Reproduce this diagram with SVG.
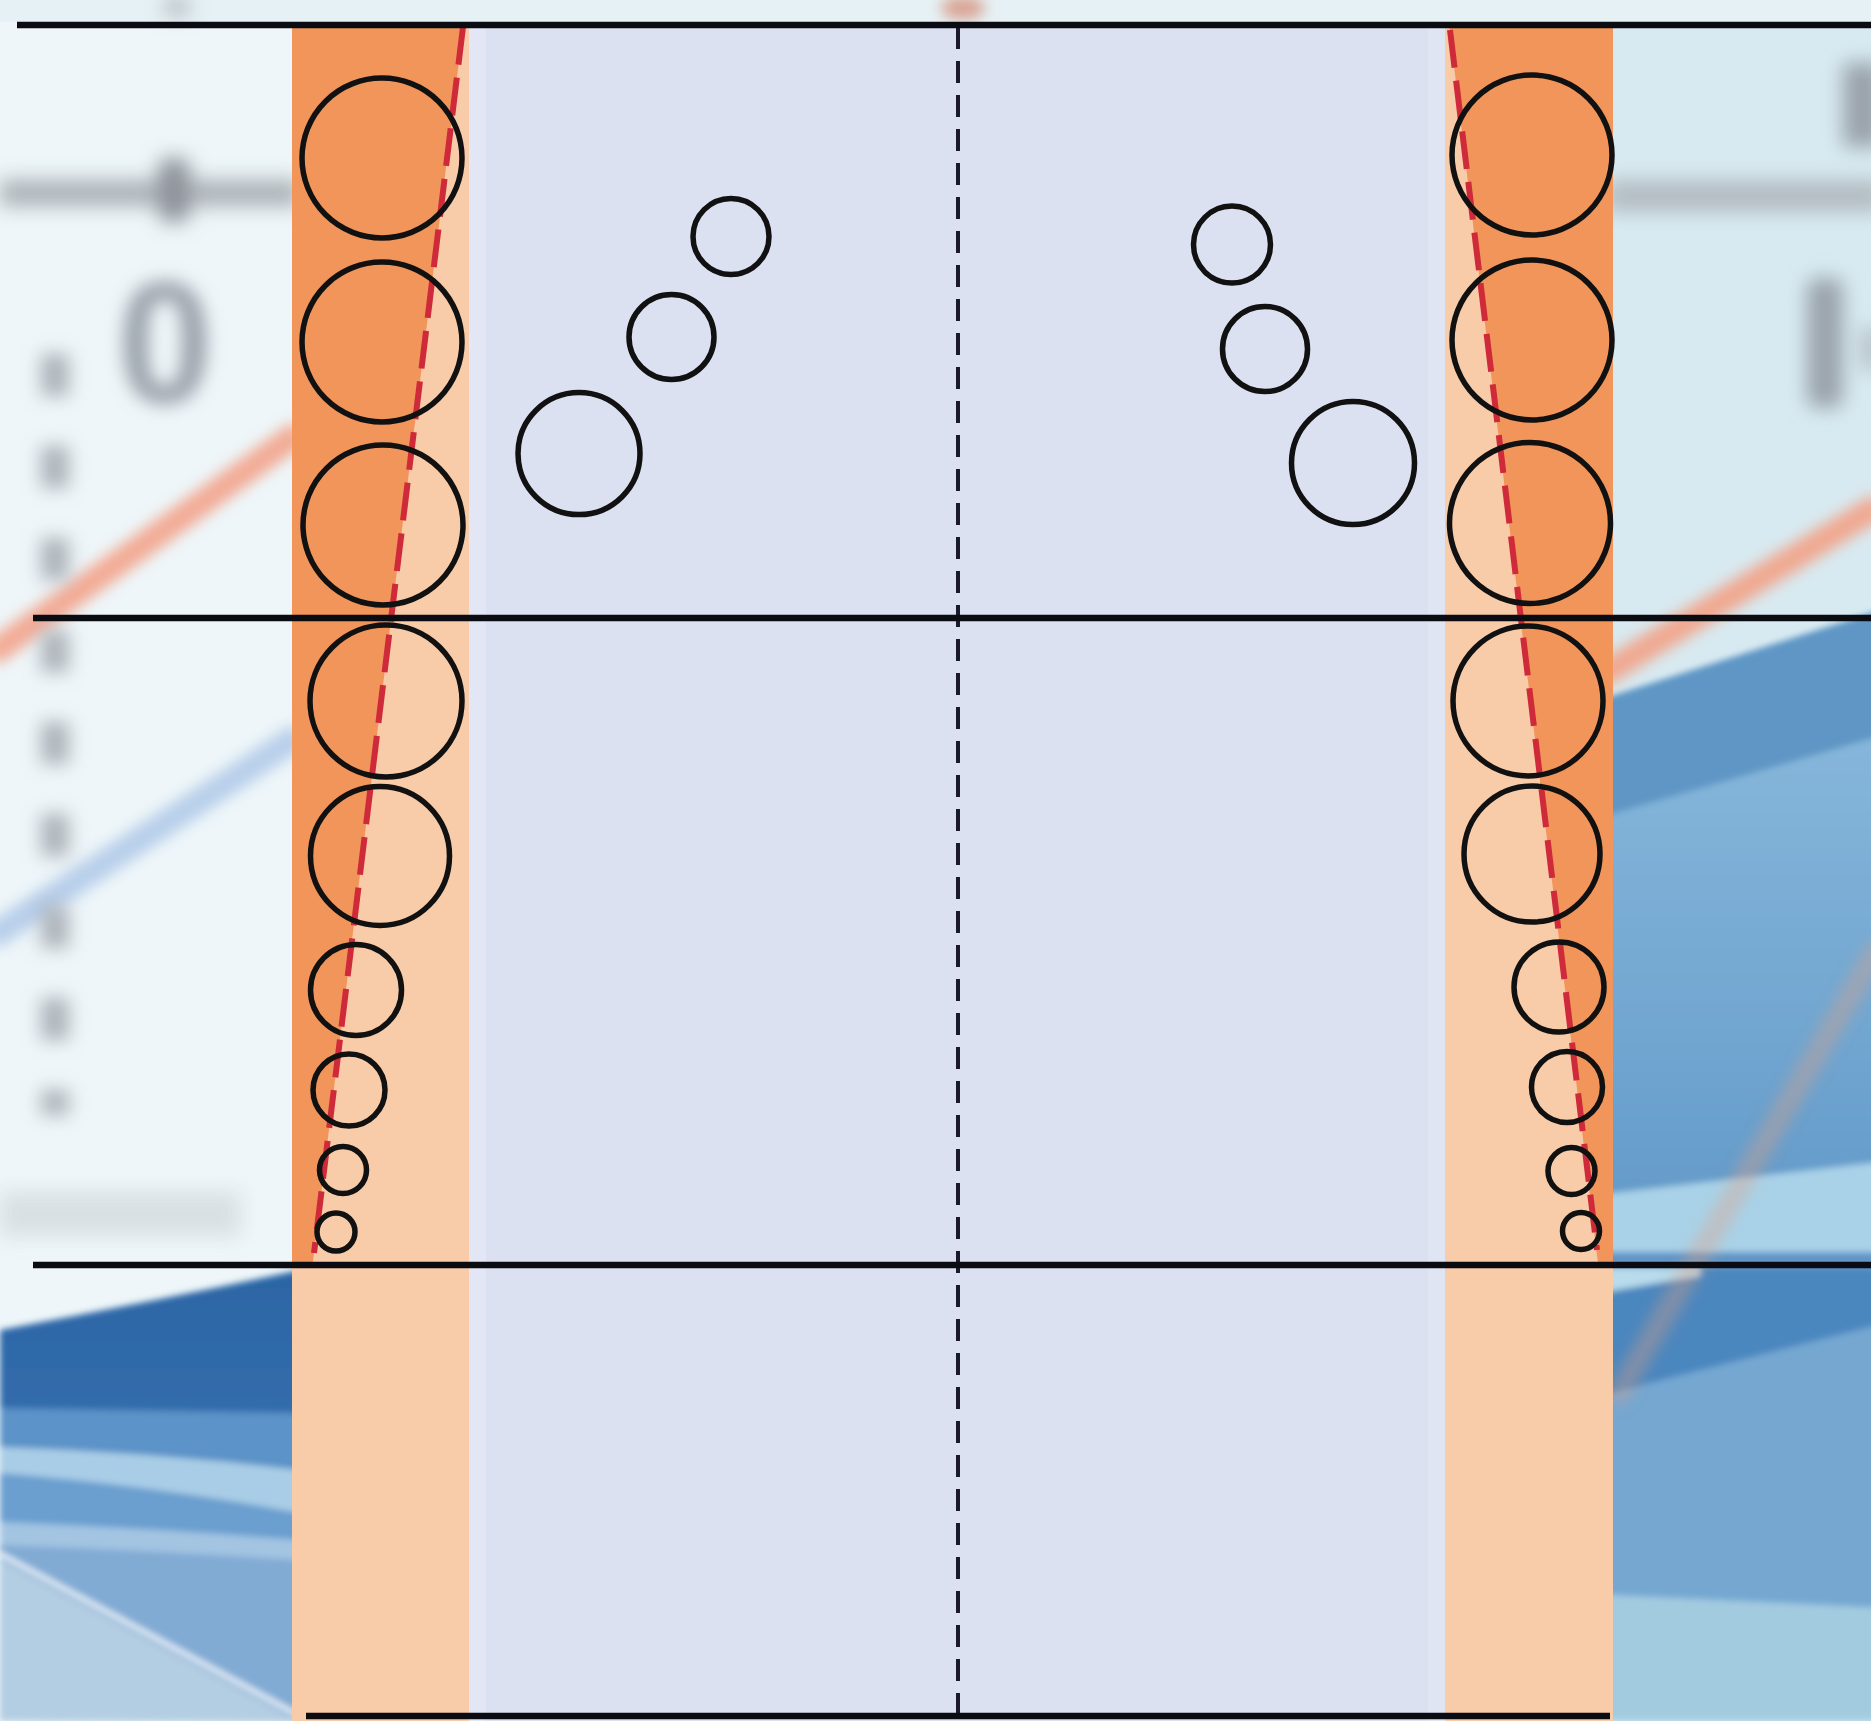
<svg xmlns="http://www.w3.org/2000/svg" width="1871" height="1721" viewBox="0 0 1871 1721">
<defs>
<style>
.hl{stroke:#0b0b12;stroke-width:6.5;fill:none}
.c{fill:none;stroke:#111;stroke-width:5.5}
.red{stroke:#cf2a3a;stroke-width:6;stroke-dasharray:38 13;fill:none}
.axis{stroke:#1a1a2a;stroke-width:4;stroke-dasharray:22 12;fill:none}
.dark{fill:#f2955a}
.peach{fill:#f8cba9}
</style>
<filter id="b10" x="-30%" y="-30%" width="160%" height="160%"><feGaussianBlur stdDeviation="10"/></filter>
<filter id="b12" filterUnits="userSpaceOnUse" x="-50" y="150" width="400" height="1050"><feGaussianBlur stdDeviation="9"/></filter>
<filter id="b7" x="-30%" y="-30%" width="160%" height="160%"><feGaussianBlur stdDeviation="7"/></filter>
<filter id="b3" x="-5%" y="-5%" width="110%" height="110%"><feGaussianBlur stdDeviation="3"/></filter>
<clipPath id="clipL"><rect x="0" y="0" width="292" height="1721"/></clipPath>
<clipPath id="clipR"><rect x="1613" y="0" width="258" height="1721"/></clipPath>
<linearGradient id="gDark" x1="0" y1="0" x2="0" y2="1"><stop offset="0" stop-color="#2c65a5"/><stop offset="1" stop-color="#3d7dbb"/></linearGradient>
<linearGradient id="gR2" x1="0" y1="0" x2="0" y2="1"><stop offset="0" stop-color="#86b6da"/><stop offset="0.6" stop-color="#70a5d0"/><stop offset="1" stop-color="#6097c7"/></linearGradient>
</defs>

<g id="background">
<rect x="0" y="0" width="1871" height="1721" fill="#eef6f9"/>
<rect x="1613" y="0" width="258" height="1721" fill="#d8eaf1"/>
<rect x="0" y="0" width="1871" height="22" fill="#e6f1f5"/>
<g clip-path="url(#clipL)">
<g filter="url(#b10)">
<rect x="0" y="180" width="300" height="26" fill="#aab0b5"/>
<rect x="158" y="158" width="32" height="64" rx="12" fill="#8d939a"/>
<rect x="166" y="0" width="22" height="14" fill="#a3a8ae"/>
<rect x="0" y="1192" width="240" height="44" fill="#c9ced3" opacity="0.55"/>
</g>
<g filter="url(#b7)">
<line x1="-10" y1="655" x2="300" y2="432" stroke="#f2ab95" stroke-width="26"/>
<line x1="-10" y1="938" x2="300" y2="735" stroke="#b8cfea" stroke-width="26"/>
</g>
<g filter="url(#b12)">
<line x1="55" y1="354" x2="55" y2="1115" stroke="#a3a9b0" stroke-width="28" stroke-dasharray="42 50" opacity="0.85"/>
<text x="165" y="402" font-family="Liberation Sans, Arial, sans-serif" font-weight="bold" font-size="172" text-anchor="middle" fill="#98a0a9">0</text>
</g>
<g filter="url(#b3)">
<path d="M0,1330 Q150,1302 300,1270 L300,1721 L0,1721 Z" fill="url(#gDark)"/>
<path d="M0,1408 L300,1413 L300,1721 L0,1721 Z" fill="#5b93c8"/>
<path d="M0,1447 Q150,1452 300,1470 L300,1721 L0,1721 Z" fill="#a9cde6"/>
<path d="M0,1473 Q150,1485 300,1513 L300,1721 L0,1721 Z" fill="#6b9fcf"/>
<path d="M0,1522 Q150,1528 300,1540 L300,1721 L0,1721 Z" fill="#a3c5e2"/>
<path d="M0,1545 Q150,1550 300,1560 L300,1721 L0,1721 Z" fill="#82abd4"/>
<path d="M0,1560 L300,1722 L0,1721 Z" fill="#b3cde2"/>
<line x1="0" y1="1554" x2="300" y2="1716" stroke="#e6f0f8" stroke-width="5"/>
</g>
</g>
<g clip-path="url(#clipR)">
<g filter="url(#b10)">
<rect x="1605" y="180" width="280" height="32" fill="#b3bcc2"/>
<rect x="1807" y="278" width="36" height="130" rx="10" fill="#9aa3ab"/>
<rect x="1843" y="63" width="40" height="84" fill="#9aa3ab"/>
<rect x="1864" y="328" width="14" height="42" fill="#a6aeb5"/>
</g>
<g filter="url(#b3)">
<path d="M1605,698 L1880,610 L1880,1265 L1605,1265 Z" fill="#5e96c5"/>
<path d="M1605,816 L1880,736 L1880,1265 L1605,1265 Z" fill="url(#gR2)"/>
<path d="M1605,1194 L1880,1162 L1880,1265 L1605,1265 Z" fill="#a9d2e8"/>
<rect x="1605" y="1252" width="275" height="13" fill="#5e94c6"/>
<path d="M1605,1266 L1880,1266 L1880,1325 L1605,1395 Z" fill="#4c87bf"/>
<path d="M1605,1268 L1700,1268 L1700,1276 L1605,1292 Z" fill="#b8dcec"/>
<path d="M1605,1395 L1880,1325 L1880,1608 L1605,1595 Z" fill="#74a7d1"/>
<path d="M1605,1595 L1880,1608 L1880,1721 L1605,1721 Z" fill="#a3cbe0"/>
</g>
<g filter="url(#b7)">
<line x1="1600" y1="676" x2="1880" y2="505" stroke="#f0a890" stroke-width="26"/>
<line x1="1880" y1="945" x2="1615" y2="1400" stroke="#e4a07e" stroke-width="22" opacity="0.35"/>
</g>
</g>
<ellipse cx="963" cy="8" rx="22" ry="12" fill="#d9a594" filter="url(#b7)"/>
</g>

<g id="centre">
<rect x="469" y="22" width="976" height="1699" fill="#dce1f2"/>
<rect x="469" y="22" width="17" height="1699" fill="#e3e7f5"/>
<rect x="1428" y="22" width="17" height="1699" fill="#e0e5f4"/>
</g>

<g id="left-wall">
<rect class="peach" x="292" y="22" width="177" height="1699"/>
<polygon class="dark" points="292,22 463.7,22 312.5,1265 292,1265"/>
</g>
<g id="right-wall">
<rect class="peach" x="1445" y="22" width="168" height="1699"/>
<polygon class="dark" points="1448.7,22 1613,22 1613,1265 1598.2,1265"/>
</g>

<g id="connectors">
<line class="axis" x1="958" y1="27" x2="958" y2="1721"/>
<line class="red" x1="463" y1="27" x2="314" y2="1253"/>
<line class="red" x1="1450" y1="30" x2="1597" y2="1250"/>
<line class="hl" x1="17" y1="25" x2="1871" y2="25"/>
<line class="hl" x1="33" y1="618" x2="1871" y2="618"/>
<line class="hl" x1="33" y1="1265" x2="1871" y2="1265"/>
<line class="hl" x1="306" y1="1716" x2="1610" y2="1716"/>
</g>

<g id="left-bubbles">
<circle id="L1" class="c" cx="382" cy="158" r="80"/>
<circle id="L2" class="c" cx="382" cy="342" r="80"/>
<circle id="L3" class="c" cx="383" cy="525" r="80"/>
<circle id="L4" class="c" cx="386" cy="701" r="76"/>
<circle id="L5" class="c" cx="380" cy="856" r="69.5"/>
<circle id="L6" class="c" cx="356" cy="990" r="45.5"/>
<circle id="L7" class="c" cx="349" cy="1090" r="36"/>
<circle id="L8" class="c" cx="343" cy="1170" r="23.5"/>
<circle id="L9" class="c" cx="336" cy="1232" r="19"/>
</g>
<g id="right-bubbles">
<circle id="R1" class="c" cx="1532" cy="155" r="80"/>
<circle id="R2" class="c" cx="1532" cy="340" r="80"/>
<circle id="R3" class="c" cx="1530" cy="523" r="80.5"/>
<circle id="R4" class="c" cx="1528" cy="701" r="75"/>
<circle id="R5" class="c" cx="1532" cy="854" r="68"/>
<circle id="R6" class="c" cx="1559" cy="987" r="45"/>
<circle id="R7" class="c" cx="1567" cy="1087" r="35.5"/>
<circle id="R8" class="c" cx="1571.5" cy="1171" r="23.5"/>
<circle id="R9" class="c" cx="1581" cy="1231" r="18.5"/>
</g>
<g id="free-bubbles">
<circle id="A" class="c" cx="731" cy="236.5" r="38"/>
<circle id="B" class="c" cx="671.5" cy="337" r="42.5"/>
<circle id="C" class="c" cx="579" cy="453.6" r="61"/>
<circle id="D" class="c" cx="1232" cy="244.6" r="38.5"/>
<circle id="E" class="c" cx="1265" cy="349" r="42.5"/>
<circle id="F" class="c" cx="1353" cy="463" r="61.5"/>
</g>
</svg>
